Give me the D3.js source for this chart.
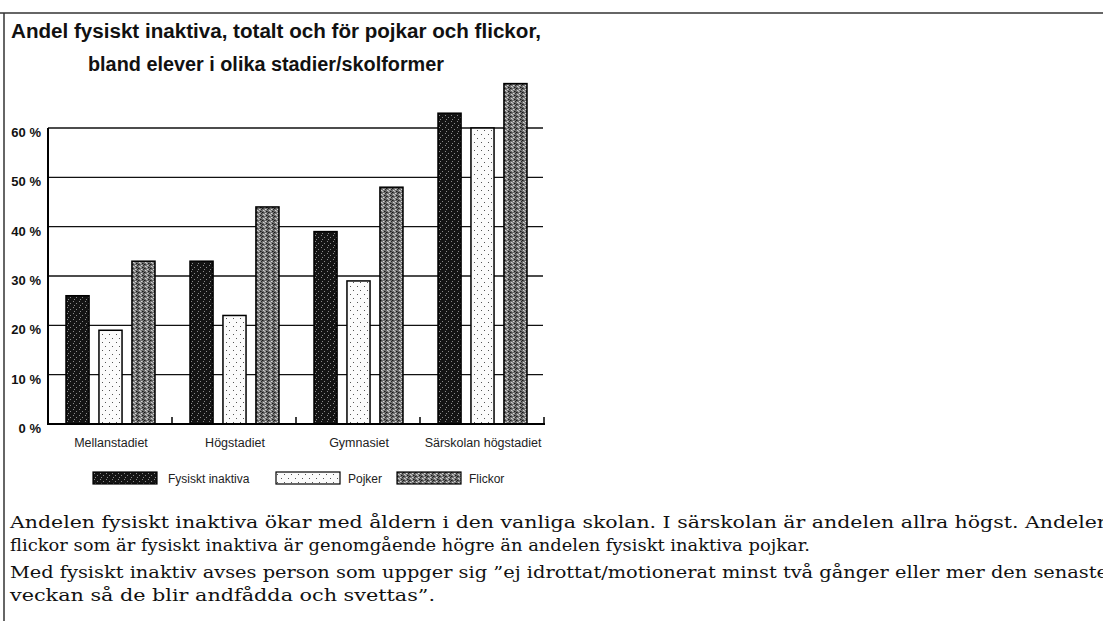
<!DOCTYPE html>
<html>
<head>
<meta charset="utf-8">
<script src="https://cdn.jsdelivr.net/npm/d3@7"></script>
<style>
  body { margin: 0; background: #fff; }
  svg { display: block; }
  .sans { font-family: "Liberation Sans Narrow", "Liberation Sans", Arial, sans-serif; }
  .serif { font-family: "DejaVu Serif", "Liberation Serif", serif; }
</style>
</head>
<body>
<div id="chart"></div>
<script>
// data
const categories = ["Mellanstadiet", "Högstadiet", "Gymnasiet", "Särskolan högstadiet"];
const series = ["Fysiskt inaktiva", "Pojker", "Flickor"];
const totalt = [26, 33, 39, 63];
const pojkar = [19, 22, 29, 60];
const flickor = [33, 44, 48, 69];
const yTicks = [0, 10, 20, 30, 40, 50, 60];

const titleLines = [
  "Andel fysiskt inaktiva, totalt och för pojkar och flickor,",
  "bland elever i olika stadier/skolformer"
];
const textLines = [
  "Andelen fysiskt inaktiva ökar med åldern i den vanliga skolan. I särskolan är andelen allra högst.  Andelen",
  "flickor som är fysiskt inaktiva är genomgående högre än andelen fysiskt inaktiva pojkar.",
  "Med fysiskt inaktiv avses person som uppger sig ”ej idrottat/motionerat minst två gånger eller mer den senaste",
  "veckan så de blir andfådda och svettas”."
];

const width = 1103, height = 621;

const svg = d3.select("#chart").append("svg")
  .attr("width", width)
  .attr("height", height);

// textures for the three bar kinds (scanned raster look)
const defs = svg.append("defs");

const dark = defs.append("pattern").attr("id", "pat-dark")
  .attr("patternUnits", "userSpaceOnUse").attr("width", 6).attr("height", 6);
dark.append("rect").attr("width", 6).attr("height", 6).attr("fill", "#141414");
[[1, 1], [4, 3], [2, 5]].forEach(p => {
  dark.append("rect").attr("x", p[0]).attr("y", p[1]).attr("width", 1).attr("height", 1).attr("fill", "#8a8a8a");
});

const light = defs.append("pattern").attr("id", "pat-light")
  .attr("patternUnits", "userSpaceOnUse").attr("width", 7).attr("height", 8);
light.append("rect").attr("width", 7).attr("height", 8).attr("fill", "#fbfbfb");
[[1, 2], [5, 6]].forEach(p => {
  light.append("rect").attr("x", p[0]).attr("y", p[1]).attr("width", 1).attr("height", 1).attr("fill", "#555");
});

const mid = defs.append("pattern").attr("id", "pat-mid")
  .attr("patternUnits", "userSpaceOnUse").attr("width", 6).attr("height", 4);
mid.append("rect").attr("width", 6).attr("height", 4).attr("fill", "#6e6e6e");
[[0, 0, "#1a1a1a"], [3, 1, "#d8d8d8"], [1, 2, "#cfcfcf"], [4, 3, "#1a1a1a"], [5, 1, "#2a2a2a"], [2, 3, "#bbb"]].forEach(p => {
  mid.append("rect").attr("x", p[0]).attr("y", p[1]).attr("width", 1.5).attr("height", 1).attr("fill", p[2]);
});

const fills = ["url(#pat-dark)", "url(#pat-light)", "url(#pat-mid)"];

// frame of the page
svg.append("line").attr("x1", 0).attr("x2", width).attr("y1", 13).attr("y2", 13)
  .attr("stroke", "#333").attr("stroke-width", 1.5);
svg.append("line").attr("x1", 4).attr("x2", 4).attr("y1", 13).attr("y2", height)
  .attr("stroke", "#333").attr("stroke-width", 1.5);

// title
svg.selectAll(".title")
  .data(titleLines)
  .join("text")
  .attr("class", "title sans")
  .attr("x", (d, i) => i == 0 ? 11 : 88)
  .attr("y", (d, i) => i == 0 ? 38 : 71)
  .attr("textLength", (d, i) => i == 0 ? 530 : 356)
  .attr("lengthAdjust", "spacingAndGlyphs")
  .style("font-size", "20px")
  .style("font-weight", 700)
  .style("fill", "#111")
  .text(d => d);

// scales
const x0 = d3.scaleBand().domain(categories).range([48, 544]);
const x1 = d3.scaleBand().domain(series).range([18, 107]).paddingInner(0.3);
const y = d3.scaleLinear().domain([0, 60]).range([424, 128]);

// grid lines
svg.append("g")
  .selectAll("line")
  .data(yTicks.slice(1))
  .join("line")
  .attr("x1", 48).attr("x2", 543)
  .attr("y1", d => y(d)).attr("y2", d => y(d))
  .attr("stroke", "#111")
  .attr("stroke-width", 1.4);

// y labels
svg.append("g")
  .selectAll("text")
  .data(yTicks)
  .join("text")
  .attr("class", "sans")
  .attr("x", 41)
  .attr("y", d => y(d) + 9)
  .attr("text-anchor", "end")
  .style("font-size", "13px")
  .style("font-weight", 700)
  .style("fill", "#111")
  .text(d => d + " %");

// bars
const rows = categories.map((c, i) => ({
  cat: c,
  values: [totalt[i], pojkar[i], flickor[i]]
}));

const groups = svg.append("g")
  .selectAll("g")
  .data(rows)
  .join("g")
  .attr("transform", d => `translate(${x0(d.cat)},0)`);

groups.selectAll("rect")
  .data(d => d.values.map((v, j) => ({ s: series[j], v: v, j: j })))
  .join("rect")
  .attr("x", d => x1(d.s))
  .attr("y", d => y(d.v))
  .attr("width", x1.bandwidth())
  .attr("height", d => y(0) - y(d.v))
  .attr("fill", d => fills[d.j])
  .attr("stroke", "#000")
  .attr("stroke-width", 1.5);

// axes
svg.append("line").attr("x1", 48).attr("x2", 48).attr("y1", y(60)).attr("y2", y(0))
  .attr("stroke", "#000").attr("stroke-width", 2);
svg.append("line").attr("x1", 47).attr("x2", 545).attr("y1", y(0)).attr("y2", y(0))
  .attr("stroke", "#000").attr("stroke-width", 2);

svg.append("g")
  .selectAll("line")
  .data(categories)
  .join("line")
  .attr("x1", d => x0(d) + x0.bandwidth())
  .attr("x2", d => x0(d) + x0.bandwidth())
  .attr("y1", y(0))
  .attr("y2", y(0) - 7)
  .attr("stroke", "#000")
  .attr("stroke-width", 1.5);

svg.append("g")
  .selectAll("text")
  .data(categories)
  .join("text")
  .attr("class", "sans")
  .attr("x", d => x0(d) + x0.bandwidth() / 2 + 1)
  .attr("y", 447)
  .attr("text-anchor", "middle")
  .style("font-size", "12.5px")
  .style("fill", "#222")
  .text(d => d);

// legend
const legendX = [93, 276, 397];
const legend = svg.append("g")
  .selectAll("g")
  .data(series)
  .join("g")
  .attr("transform", (d, i) => `translate(${legendX[i]},472)`);

legend.append("rect")
  .attr("width", 64)
  .attr("height", 12)
  .attr("fill", (d, i) => fills[i])
  .attr("stroke", "#000")
  .attr("stroke-width", 1.2);

legend.append("text")
  .attr("class", "sans")
  .attr("x", (d, i) => i == 0 ? 75 : 72)
  .attr("y", 11)
  .style("font-size", "12px")
  .style("fill", "#222")
  .text(d => d);

// text below the chart
const lineY = [528, 551, 578, 601];
const lineLen = [1100, 800, 1098, 425];
svg.append("g")
  .selectAll("text")
  .data(textLines)
  .join("text")
  .attr("class", "serif")
  .attr("x", 10)
  .attr("y", (d, i) => lineY[i])
  .attr("textLength", (d, i) => lineLen[i])
  .attr("lengthAdjust", "spacingAndGlyphs")
  .style("font-size", "16px")
  .style("fill", "#111")
  .text(d => d);
</script>
</body>
</html>
